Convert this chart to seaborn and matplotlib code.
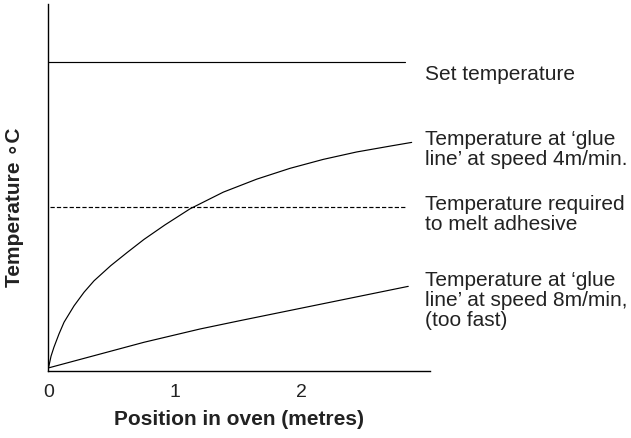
import matplotlib
matplotlib.use("Agg")
import matplotlib.pyplot as plt
import seaborn as sns
import pandas as pd

# ---- data ----
tick_values = [0, 1, 2]
tick_labels = ["0", "1", "2"]

set_x = [0.0, 2.82]
set_temp = [100, 100]

melt_x = [0.01, 2.83]
melt_temp = [53, 53]

fast_x = [0.0, 0.02, 0.043, 0.083, 0.123, 0.202, 0.281, 0.36, 0.492, 0.623,
          0.755, 0.921, 1.119, 1.382, 1.646, 1.909, 2.172, 2.436, 2.70, 2.871]
fast_temp = [1.0, 4.8, 7.7, 12.0, 15.8, 21.1, 25.5, 29.2, 34.1, 38.4,
             42.6, 47.3, 52.5, 57.9, 62.1, 65.6, 68.5, 70.9, 72.8, 74.0]

slow_x = [0.0, 0.755, 1.198, 1.514, 2.844]
slow_temp = [1.0, 9.3, 13.6, 16.3, 27.4]

labels = {
    "set": "Set temperature",
    "fast": "Temperature at \u2018glue\nline\u2019 at speed 4m/min.",
    "melt": "Temperature required\nto melt adhesive",
    "slow": "Temperature at \u2018glue\nline\u2019 at speed 8m/min,\n(too fast)",
}
x_title = "Position in oven (metres)"
y_title = "Temperature \u2218C"

sns.set_theme(style="white")
plt.rcParams["font.family"] = ["Liberation Sans", "DejaVu Sans"]

W, H = 631, 439
fig = plt.figure(figsize=(W / 100, H / 100), dpi=100)
ax = fig.add_axes([48.5 / W, (H - 372) / H, (430 - 48.5) / W, (372 - 5) / H])

df_set = pd.DataFrame({"x": set_x, "t": set_temp})
df_melt = pd.DataFrame({"x": melt_x, "t": melt_temp})
df_fast = pd.DataFrame({"x": fast_x, "t": fast_temp})
df_slow = pd.DataFrame({"x": slow_x, "t": slow_temp})

lw = 0.85
sns.lineplot(data=df_set, x="x", y="t", ax=ax, color="black", lw=lw)
sns.lineplot(data=df_melt, x="x", y="t", ax=ax, color="black", lw=lw,
             linestyle=(0, (3.6, 1.8)))
sns.lineplot(data=df_fast, x="x", y="t", ax=ax, color="black", lw=lw)
sns.lineplot(data=df_slow, x="x", y="t", ax=ax, color="black", lw=lw)

ax.set_xlim(0, 3.016)
ax.set_ylim(0, 118.8)
ax.set_xticks(tick_values)
ax.set_xticklabels(tick_labels)
ax.set_yticks([])
ax.tick_params(axis="x", length=0, pad=9, labelsize=14, colors="#222222")
for s in ["top", "right"]:
    ax.spines[s].set_visible(False)
for s in ["left", "bottom"]:
    ax.spines[s].set_color("black")
    ax.spines[s].set_linewidth(1.0)

ax.set_xlabel(x_title, fontsize=15, fontweight="bold",
              color="#222222", labelpad=6)
ax.set_ylabel(y_title, fontsize=15, fontweight="bold", color="#222222")
ax.yaxis.set_label_coords((24 - 48.5) / 381.5, (372 - 207.5) / 367)

tf = fig.transFigure
def fy(py):
    return 1 - py / H

txt_kw = dict(transform=tf, fontsize=15, color="#222222", ha="left",
              va="baseline", linespacing=1.05)
fig.text(425 / W, fy(80), labels["set"], **txt_kw)
fig.text(425 / W, fy(165), labels["fast"], **txt_kw)
fig.text(425 / W, fy(230), labels["melt"], **txt_kw)
fig.text(425 / W, fy(326), labels["slow"], **txt_kw)

fig.savefig("out.png", dpi=100)
